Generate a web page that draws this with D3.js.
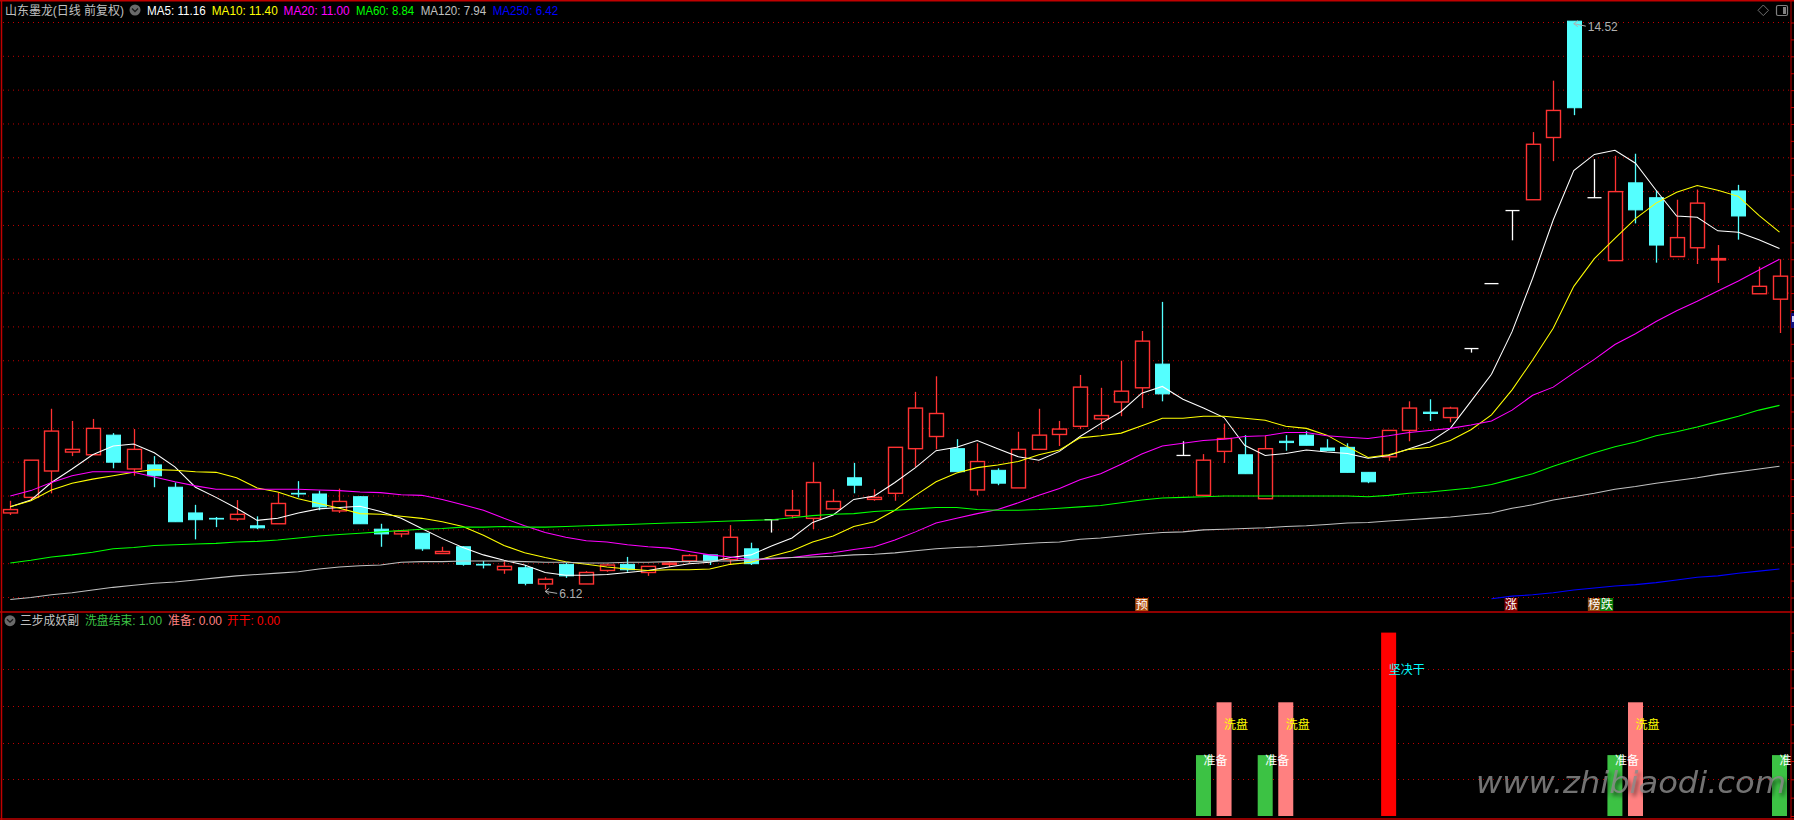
<!DOCTYPE html>
<html><head><meta charset="utf-8">
<script src="https://cdn.jsdelivr.net/npm/d3@7/dist/d3.min.js"></script>
<style>html,body{margin:0;padding:0;background:#000;overflow:hidden}svg{display:block}text{font-family:"Liberation Sans","Noto Sans CJK SC",sans-serif}</style>
</head><body><svg id="c" width="1794" height="820"></svg>
<script>
const opens=[7.25,7.48,7.87,8.15,8.11,8.40,7.90,7.96,7.63,7.25,
7.17,7.16,7.06,7.09,7.54,7.53,7.28,7.49,7.01,6.94,
6.95,6.65,6.75,6.49,6.41,6.44,6.20,6.49,6.20,6.40,
6.49,6.37,6.49,6.54,6.63,6.56,6.72,7.15,7.21,7.17,
7.31,7.77,7.45,7.54,8.20,8.38,8.20,7.59,7.88,7.62,
8.19,8.41,8.53,8.64,8.89,9.10,9.45,8.10,7.51,8.16,
8.11,7.46,8.31,8.40,8.21,8.22,7.85,8.08,8.47,8.74,
8.66,9.68,10.64,11.72,11.88,12.80,14.52,11.91,10.98,12.13,
11.91,11.04,11.17,10.99,12.01,10.49,10.41];
const highs=[7.43,8.03,8.79,8.61,8.64,8.43,8.49,8.09,7.70,7.37,
7.19,7.44,7.20,7.55,7.72,7.58,7.61,7.50,7.09,7.00,
6.95,6.75,6.76,6.54,6.55,6.48,6.30,6.51,6.39,6.50,
6.60,6.46,6.54,6.64,6.63,7.07,6.81,7.15,7.59,8.00,
7.60,7.99,7.60,8.22,9.04,9.27,8.34,8.28,7.91,8.45,
8.79,8.61,9.29,9.10,9.50,9.94,10.37,8.31,8.12,8.57,
8.40,8.39,8.40,8.46,8.34,8.28,7.85,8.47,8.90,8.93,
8.82,9.68,10.64,11.72,12.88,13.64,14.52,12.48,12.53,12.56,
12.02,11.88,12.03,11.21,12.10,10.89,11.00];
const lows=[7.22,7.44,7.54,8.09,8.11,7.91,7.80,7.63,7.12,6.86,
7.04,7.13,7.01,7.09,7.48,7.29,7.25,7.09,6.75,6.89,
6.69,6.65,6.47,6.43,6.35,6.18,6.12,6.29,6.20,6.38,
6.38,6.32,6.45,6.51,6.48,6.48,6.48,6.96,7.17,7.01,
7.31,7.54,7.43,7.43,7.93,8.19,7.86,7.51,7.66,7.62,
8.19,8.24,8.49,8.48,8.68,8.80,8.90,8.10,7.51,7.99,
7.83,7.46,8.17,8.25,8.17,7.85,7.69,8.02,8.31,8.61,
8.59,9.62,10.64,11.28,11.88,12.45,13.13,11.91,10.98,11.53,
10.95,11.04,10.93,10.65,11.29,10.49,9.91];
const closes=[7.30,8.03,8.46,8.19,8.50,8.00,8.19,7.80,7.12,7.15,
7.16,7.23,7.03,7.39,7.53,7.34,7.42,7.09,6.94,6.98,
6.72,6.68,6.49,6.48,6.46,6.21,6.27,6.32,6.37,6.48,
6.41,6.46,6.51,6.62,6.54,6.89,6.50,7.15,7.29,7.70,
7.42,7.66,7.48,8.22,8.80,8.72,7.86,8.01,7.69,8.19,
8.40,8.49,9.11,8.69,9.05,9.79,9.01,8.10,8.03,8.35,
7.83,8.20,8.29,8.25,8.17,7.85,7.71,8.47,8.80,8.72,
8.80,9.68,10.64,11.72,12.70,13.20,13.24,11.91,12.00,11.73,
11.21,11.32,11.83,11.01,11.64,10.60,10.75];
const ma5=[7.34,7.44,7.70,7.90,8.11,8.24,8.27,8.14,7.93,7.63,
7.48,7.32,7.14,7.17,7.25,7.31,7.33,7.35,7.27,7.17,
7.02,6.87,6.74,6.63,6.55,6.48,6.37,6.33,6.33,6.34,
6.37,6.40,6.45,6.50,6.52,6.59,6.63,6.76,6.88,7.11,
7.22,7.45,7.50,7.70,7.92,8.17,8.22,8.32,8.20,8.08,
8.03,8.16,8.38,8.57,8.75,9.02,9.12,8.93,8.80,8.66,
8.25,8.10,8.13,8.18,8.15,8.13,8.06,8.10,8.20,8.30,
8.50,8.90,9.30,9.93,10.72,11.58,12.31,12.55,12.61,12.42,
12.02,11.64,11.62,11.42,11.40,11.29,11.16];
const ma10=[7.34,7.43,7.59,7.69,7.75,7.80,7.85,7.89,7.88,7.86,
7.85,7.77,7.62,7.56,7.46,7.39,7.32,7.24,7.23,7.20,
7.17,7.12,7.05,6.92,6.77,6.66,6.59,6.53,6.49,6.45,
6.42,6.40,6.41,6.41,6.42,6.49,6.52,6.61,6.69,6.82,
6.91,7.05,7.12,7.29,7.51,7.71,7.84,7.92,7.96,8.01,
8.11,8.18,8.36,8.39,8.43,8.54,8.65,8.65,8.68,8.68,
8.65,8.62,8.53,8.50,8.40,8.23,8.07,8.11,8.19,8.22,
8.32,8.48,8.70,9.07,9.51,9.98,10.60,11.01,11.31,11.60,
11.83,11.99,12.09,12.02,11.93,11.65,11.40];
const ma20=[7.50,7.58,7.70,7.80,7.86,7.86,7.85,7.78,7.71,7.65,
7.60,7.60,7.60,7.60,7.60,7.59,7.58,7.56,7.55,7.52,
7.51,7.45,7.37,7.29,7.17,7.06,6.96,6.89,6.84,6.82,
6.78,6.75,6.73,6.68,6.63,6.60,6.56,6.57,6.59,6.63,
6.66,6.71,6.75,6.85,6.97,7.10,7.17,7.24,7.30,7.40,
7.51,7.61,7.74,7.83,7.97,8.12,8.24,8.28,8.32,8.34,
8.38,8.39,8.44,8.44,8.39,8.37,8.35,8.39,8.44,8.47,
8.50,8.55,8.61,8.77,8.99,9.11,9.32,9.52,9.74,9.90,
10.08,10.24,10.38,10.53,10.68,10.84,11.00];
const ma60=[6.51,6.55,6.60,6.63,6.67,6.72,6.74,6.77,6.78,6.79,
6.80,6.82,6.83,6.85,6.88,6.91,6.93,6.95,6.97,6.99,
7.01,7.02,7.04,7.04,7.05,7.04,7.04,7.05,7.06,7.07,
7.08,7.09,7.10,7.11,7.12,7.13,7.14,7.15,7.18,7.21,
7.23,7.24,7.27,7.29,7.31,7.33,7.33,7.30,7.29,7.29,
7.30,7.32,7.34,7.36,7.40,7.44,7.47,7.48,7.49,7.50,
7.50,7.50,7.50,7.50,7.50,7.50,7.49,7.51,7.54,7.56,
7.59,7.62,7.67,7.75,7.83,7.94,8.04,8.14,8.23,8.30,
8.39,8.45,8.52,8.60,8.68,8.77,8.84];
const ma120=[5.97,6.00,6.04,6.07,6.11,6.15,6.18,6.21,6.23,6.26,
6.29,6.32,6.34,6.36,6.38,6.42,6.45,6.47,6.48,6.52,
6.53,6.53,6.54,6.54,6.54,6.53,6.52,6.52,6.51,6.51,
6.52,6.52,6.53,6.53,6.54,6.54,6.56,6.58,6.59,6.60,
6.61,6.63,6.64,6.66,6.69,6.72,6.74,6.75,6.77,6.79,
6.81,6.82,6.86,6.88,6.91,6.94,6.96,6.97,7.00,7.01,
7.02,7.03,7.05,7.06,7.08,7.10,7.11,7.13,7.15,7.17,
7.19,7.22,7.25,7.32,7.37,7.44,7.49,7.54,7.60,7.64,
7.69,7.73,7.77,7.82,7.86,7.90,7.94];
const ma250Tail=[5.98,6.02,6.04,6.07,6.11,6.14,6.17,6.19,6.22,6.26,6.30,6.32,6.36,6.39,6.42];
const ma250=Array(opens.length-ma250Tail.length).fill(null).concat(ma250Tail);

const maSeries=[["MA5",ma5,"#ffffff"],["MA10",ma10,"#ffff00"],["MA20",ma20,"#ff00ff"],["MA60",ma60,"#00ff00"],["MA120",ma120,"#c0c0c0"],["MA250",ma250,"#0000ff"]];
const maLegendValues=["11.16","11.40","11.00","8.84","7.94","6.42"];
const gridPrices=d3.range(6,14.51,0.5);
const axisPrices=d3.range(6,14.51,0.25);

const subCategories=["准备","洗盘","坚决干"];
const subIndex=[58,59,61,62,67,78,79,86];
const subKind=[0,1,0,1,2,0,1,0];
const subLevels=[1.66,3.1,5];
const subColors=["#3cc244","#ff8080","#ff0000"];
const subTextColors=["#ffffff","#ffff00","#00ffff"];
const subTextLevel=[1.5,2.5,4];

const tagLabels=["预","涨","榜","跌"];
const tagIndex=[55,72.95,77,77.6];
const tagColors=["#b0500f","#800000","#8a4a0a","#0a7a0a"];

const svg=d3.select("#c");
const defs=svg.append("defs");
defs.append("clipPath").attr("id","plot").append("rect").attr("x",3).attr("y",0).attr("width",1788).attr("height",820);
defs.append("filter").attr("id","blur").append("feGaussianBlur").attr("stdDeviation",2);

const x=d3.scaleLinear().domain([0,86]).range([10.3,1779.5]);
const y=d3.scaleLinear().domain([6,14.5]).range([597.5,22.5]);
const ys=d3.scaleLinear().domain([0,5]).range([816,632.6]);
const frame="#c00000";

svg.append("rect").attr("width",1794).attr("height",820).attr("fill","#000");
const grid=svg.append("g").attr("stroke","#c00000").attr("stroke-width",1).attr("stroke-dasharray","1 4");
grid.selectAll("line.m").data(gridPrices).join("line").attr("class","m").attr("x1",3).attr("x2",1791).attr("y1",d=>y(d)).attr("y2",d=>y(d));
grid.selectAll("line.s").data([1,2,3,4]).join("line").attr("class","s").attr("x1",3).attr("x2",1791).attr("y1",d=>Math.round(ys(d))+.5).attr("y2",d=>Math.round(ys(d))+.5);

// frame
const fr=svg.append("g").attr("stroke",frame).attr("stroke-width",1.5);
fr.append("line").attr("x1",0).attr("x2",1794).attr("y1",.75).attr("y2",.75);
fr.append("line").attr("x1",1.5).attr("x2",1.5).attr("y1",0).attr("y2",820);
fr.append("line").attr("x1",0).attr("x2",1794).attr("y1",612).attr("y2",612);
fr.append("line").attr("x1",0).attr("x2",1794).attr("y1",819).attr("y2",819);

// right axes
const ax=d3.axisRight(y).tickValues(axisPrices).tickFormat("").tickSize(3);
const gA=svg.append("g").attr("transform","translate(1791,0)").call(ax);
gA.selectAll("line,path").attr("stroke",frame);
gA.select("path").attr("d","M0,0V612");
const axS=d3.axisRight(ys).tickValues(d3.range(0,5.01,.5)).tickFormat("").tickSize(3);
const gS=svg.append("g").attr("transform","translate(1791,0)").call(axS);
gS.selectAll("line,path").attr("stroke",frame);
gS.select("path").attr("d","M0,612V820");
svg.append("rect").attr("x",1791).attr("y",313).attr("width",3).attr("height",15).attr("fill","#101080");
svg.append("rect").attr("x",1792).attr("y",316).attr("width",2).attr("height",6).attr("fill","#d0d0ff");

// candles
const col=i=>closes[i]>opens[i]?"#ff3232":closes[i]<opens[i]?"#54ffff":"#ffffff";
const idx=d3.range(opens.length);
const cg=svg.append("g");
cg.selectAll("line.w").data(idx).join("line").attr("class","w").attr("x1",i=>Math.round(x(i))+.5).attr("x2",i=>Math.round(x(i))+.5)
 .attr("y1",i=>y(highs[i])).attr("y2",i=>y(lows[i])).attr("stroke",col).attr("stroke-width",1.3);
cg.selectAll("rect.b").data(idx.filter(i=>closes[i]!==opens[i])).join("rect").attr("class","b")
 .attr("x",i=>Math.round(x(i))-6.5).attr("width",14)
 .attr("y",i=>y(Math.max(opens[i],closes[i])))
 .attr("height",i=>Math.abs(y(opens[i])-y(closes[i])))
 .attr("fill",i=>closes[i]>opens[i]?"#000":col(i))
 .attr("stroke",col).attr("stroke-width",i=>closes[i]>opens[i]?1.4:1);
cg.selectAll("line.f").data(idx.filter(i=>closes[i]===opens[i])).join("line").attr("class","f")
 .attr("x1",i=>Math.round(x(i))-6.5).attr("x2",i=>Math.round(x(i))+7.5)
 .attr("y1",i=>y(closes[i])).attr("y2",i=>y(closes[i])).attr("stroke",col).attr("stroke-width",1.3);

// moving averages
const gen=d3.line().defined(d=>d[1]!=null).x(d=>x(d[0])).y(d=>y(d[1]));
svg.append("g").selectAll("path").data(maSeries).join("path")
 .attr("d",s=>gen(s[1].map((v,i)=>[i,v]))).attr("fill","none").attr("stroke",s=>s[2]).attr("stroke-width",1.05);

// price notes
function note(i,p,lbl,dy){
  const x0=x(i),y0=y(p);
  const g=svg.append("g").attr("stroke","#b0b0b0").attr("fill","none");
  g.append("path").attr("d",`M${x0+12},${y0+dy}L${x0},${y0+dy/2}M${x0},${y0+dy/2}l4,-3M${x0},${y0+dy/2}l4,3`);
  svg.append("text").attr("x",x0+14).attr("y",y0+dy+4.5).attr("fill","#b0b0b0").attr("font-size",12).text(lbl);
}
note(76,14.52,"14.52",5);
note(26,6.12,"6.12",4);

// tags
const tg=svg.append("g").selectAll("g").data(tagLabels).join("g");
tg.append("rect").attr("x",(d,i)=>x(tagIndex[i])-6.5).attr("y",598).attr("width",13).attr("height",13).attr("fill",(d,i)=>tagColors[i]);
tg.append("text").attr("x",(d,i)=>x(tagIndex[i])).attr("y",609).attr("text-anchor","middle").attr("fill","#fff").attr("font-size",12).text(d=>d);

// lower panel
const sub=svg.append("g").attr("clip-path","url(#plot)");
sub.selectAll("rect").data(subIndex).join("rect")
 .attr("x",i=>x(i)-7.5).attr("width",15)
 .attr("y",(d,k)=>ys(subLevels[subKind[k]])).attr("height",(d,k)=>816-ys(subLevels[subKind[k]]))
 .attr("fill",(d,k)=>subColors[subKind[k]]);
sub.selectAll("text").data(subIndex).join("text")
 .attr("x",i=>x(i)).attr("y",(d,k)=>ys(subTextLevel[subKind[k]])+4.5)
 .attr("font-size",12).attr("fill",(d,k)=>subTextColors[subKind[k]]).text((d,k)=>subCategories[subKind[k]]);

// legends
const lab=(t,xp,yp,c,w)=>{const n=svg.append("text").attr("x",xp).attr("y",yp).attr("fill",c).attr("font-size",12).text(t);if(w)n.attr("textLength",w).attr("lengthAdjust","spacingAndGlyphs");return n;};
lab("山东墨龙(日线 前复权)",5,14.5,"#c0c0c0",119);
const maX=[[147,58.7],[211.7,66],[283.6,66],[356,58],[420.7,65.5],[492.7,65.5]];
maSeries.forEach((s,k)=>lab(`${s[0]}: ${maLegendValues[k]}`,maX[k][0],14.5,s[2],maX[k][1]));
lab("三步成妖副",20,625,"#c0c0c0",59);
lab("洗盘结束: 1.00",85,625,subColors[0],77);
lab("准备: 0.00",168,625,subColors[1],54);
lab("开干: 0.00",227,625,subColors[2],53);

function chevron(cx,cy){
 svg.append("circle").attr("cx",cx).attr("cy",cy).attr("r",5.5).attr("fill","#6a6a6a");
 svg.append("path").attr("d",`M${cx-3},${cy-1.5}L${cx},${cy+1.5}L${cx+3},${cy-1.5}`).attr("fill","none").attr("stroke","#1a1a1a").attr("stroke-width",1.3);
}
chevron(135,10);chevron(10,620.7);
svg.append("path").attr("d","M1763.3,5L1768.5,10.3L1763.3,15.6L1758,10.3Z").attr("fill","none").attr("stroke","#707070");
svg.append("rect").attr("x",1776.5).attr("y",5.5).attr("width",11).attr("height",10).attr("rx",1.5).attr("fill","none").attr("stroke","#808080").attr("stroke-width",1.2);
svg.append("rect").attr("x",1783).attr("y",7).attr("width",3).attr("height",7).attr("fill","#808080");

// watermark
const wm=(f,dx,dy)=>svg.append("text").attr("x",1476+dx).attr("y",793+dy).attr("font-size",30).attr("font-style","italic")
 .style("font-family","'DejaVu Sans'").attr("fill",f).attr("textLength",310).attr("lengthAdjust","spacingAndGlyphs").text("www.zhibiaodi.com");
wm("#000",2,3).attr("opacity",.6).attr("filter","url(#blur)");
wm("#8c8c8c",0,0).attr("opacity",.82);
</script></body></html>
